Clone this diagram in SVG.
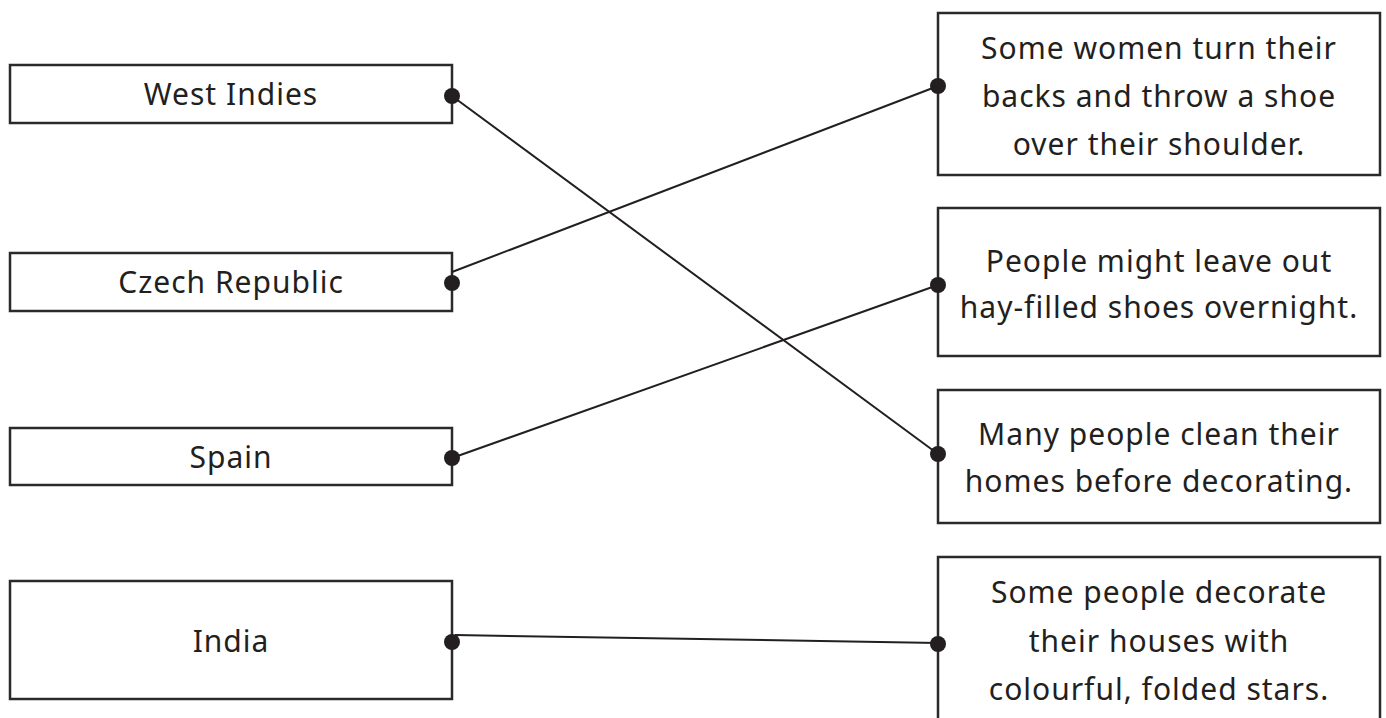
<svg xmlns="http://www.w3.org/2000/svg" width="1386" height="718" viewBox="0 0 1386 718">
<style>
.box{fill:#fff;stroke:#2b2a2b;stroke-width:2.5}
.t{font-family:"Noto Sans","Open Sans",sans-serif;font-size:30px;letter-spacing:1px;fill:#231f20;text-anchor:middle}
.c{stroke:#231f20;stroke-width:2;fill:none}
.dot{fill:#231f20}
</style>
<rect width="1386" height="718" fill="#fff"/>
<g id="left-west-indies"><rect class="box" x="10" y="65" width="442" height="58"/><text class="t" x="231" y="105">West Indies</text></g>
<g id="left-czech"><rect class="box" x="10" y="253" width="442" height="58"/><text class="t" x="231" y="293">Czech Republic</text></g>
<g id="left-spain"><rect class="box" x="10" y="428" width="442" height="57"/><text class="t" x="231" y="468">Spain</text></g>
<g id="left-india"><rect class="box" x="10" y="581" width="442" height="118"/><text class="t" x="231" y="652">India</text></g>
<g id="right-shoe"><rect class="box" x="938" y="13" width="442" height="162"/><text class="t" x="1159" y="59">Some women turn their</text><text class="t" x="1159" y="107">backs and throw a shoe</text><text class="t" x="1159" y="155">over their shoulder.</text></g>
<g id="right-hay"><rect class="box" x="938" y="208" width="442" height="148"/><text class="t" x="1159" y="272">People might leave out</text><text class="t" x="1159" y="318">hay-filled shoes overnight.</text></g>
<g id="right-clean"><rect class="box" x="938" y="390" width="442" height="133"/><text class="t" x="1159" y="445">Many people clean their</text><text class="t" x="1159" y="492">homes before decorating.</text></g>
<g id="right-stars"><rect class="box" x="938" y="557" width="442" height="200"/><text class="t" x="1159" y="603">Some people decorate</text><text class="t" x="1159" y="652">their houses with</text><text class="t" x="1159" y="700">colourful, folded stars.</text></g>
<g id="connectors">
<line class="c" x1="452" y1="96" x2="938" y2="454"/>
<line class="c" x1="452" y1="272" x2="938" y2="86"/>
<line class="c" x1="452" y1="458" x2="938" y2="285"/>
<line class="c" x1="455" y1="635" x2="938" y2="643"/>
<circle class="dot" cx="452" cy="96" r="8"/>
<circle class="dot" cx="452" cy="283" r="8"/>
<circle class="dot" cx="452" cy="458" r="8"/>
<circle class="dot" cx="452" cy="642" r="8"/>
<circle class="dot" cx="938" cy="86" r="8"/>
<circle class="dot" cx="938" cy="285" r="8"/>
<circle class="dot" cx="938" cy="454" r="8"/>
<circle class="dot" cx="938" cy="644" r="8"/>
</g>
</svg>
